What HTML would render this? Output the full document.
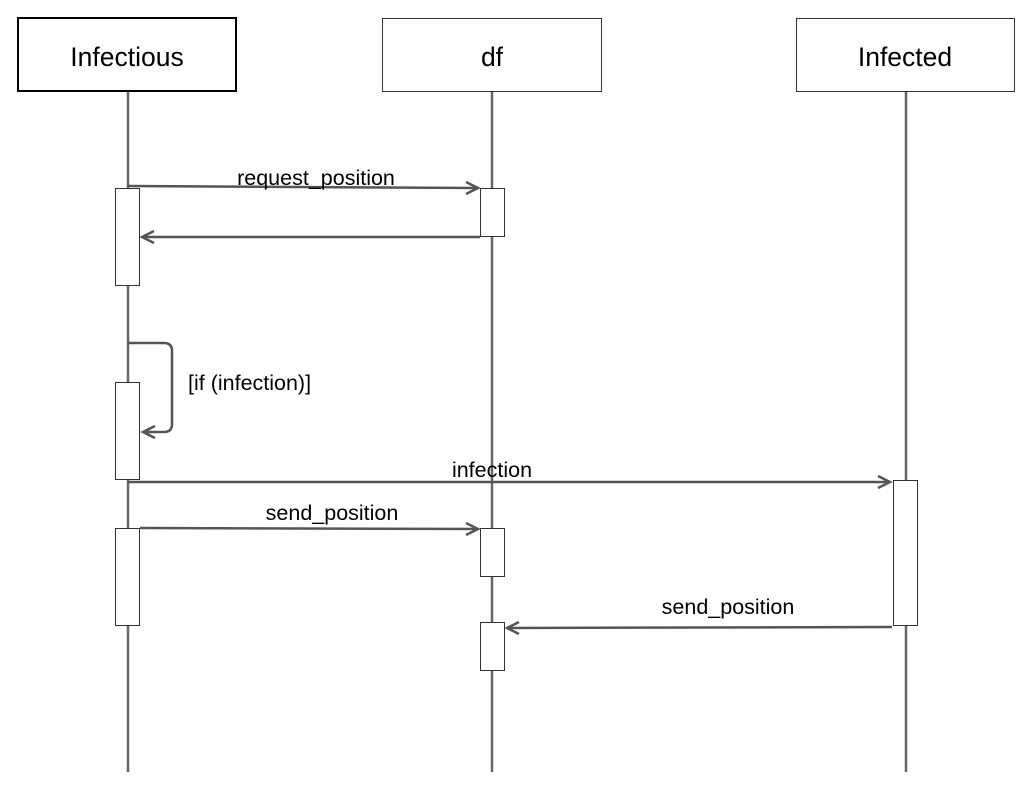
<!DOCTYPE html>
<html><head><style>body{margin:0;background:#fff}</style></head><body>
<svg width="1030" height="786" xmlns="http://www.w3.org/2000/svg" font-family="Liberation Sans, sans-serif">
<rect width="1030" height="786" fill="#fff"/>
<g stroke="#666" stroke-width="2.5" fill="none">
<line x1="128" y1="92" x2="128" y2="772"/>
<line x1="492" y1="92" x2="492" y2="772"/>
<line x1="906" y1="92" x2="906" y2="772"/>
</g>
<rect x="18" y="18" width="218" height="73" fill="#fff" stroke="#000" stroke-width="2"/>
<rect x="382.5" y="18.5" width="219" height="73" fill="#fff" stroke="#333" stroke-width="1"/>
<rect x="796.5" y="18.5" width="218" height="73" fill="#fff" stroke="#333" stroke-width="1"/>
<g font-size="26.5" text-anchor="middle" fill="#000">
<text x="127" y="66">Infectious</text>
<text x="492" y="66">df</text>
<text x="905" y="66">Infected</text>
</g>
<g fill="#fff" stroke="#333" stroke-width="1">
<rect x="115.5" y="188.5" width="24" height="97"/>
<rect x="115.5" y="382.5" width="24" height="97"/>
<rect x="115.5" y="528.5" width="24" height="97"/>
<rect x="480.5" y="188.5" width="24" height="48"/>
<rect x="480.5" y="528.5" width="24" height="48"/>
<rect x="480.5" y="622.5" width="24" height="48"/>
<rect x="893.5" y="480.5" width="24" height="145"/>
</g>
<g stroke="#555" stroke-width="2.5" fill="none">
<line x1="128" y1="186" x2="478" y2="188"/><polyline points="466,182 478,188 466,194"/>
<line x1="480" y1="237" x2="142" y2="237"/><polyline points="154,231 142,237 154,243"/>
<path d="M128,343 H164 Q172,343 172,351 V424 Q172,432 164,432 H143"/><polyline points="155,426 143,432 155,438"/>
<line x1="128" y1="482" x2="890" y2="482"/><polyline points="878,476 890,482 878,488"/>
<line x1="140" y1="528" x2="478" y2="529"/><polyline points="466,523 478,529 466,535"/>
<line x1="892" y1="627" x2="507" y2="628"/><polyline points="519,622 507,628 519,634"/>
</g>
<g font-size="21.5" fill="#000" text-anchor="middle">
<text x="316" y="185">request_position</text>
<text x="492" y="477">infection</text>
<text x="332" y="520">send_position</text>
<text x="728" y="614">send_position</text>
<text x="188" y="390" text-anchor="start">[if (infection)]</text>
</g>
</svg>
</body></html>
